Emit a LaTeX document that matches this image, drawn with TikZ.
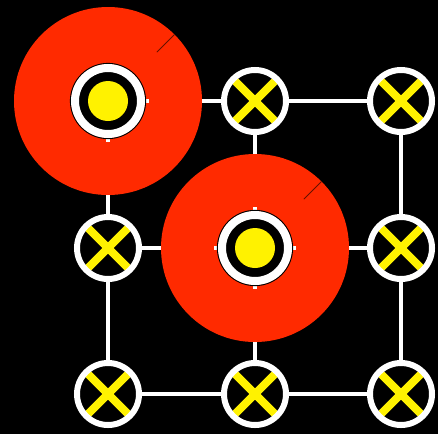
\documentclass[tikz,border=0pt]{standalone}
\usetikzlibrary{calc}
\definecolor{discred}{RGB}{255,42,0}
\definecolor{xyellow}{RGB}{255,242,0}
\tikzset{
  edge/.style={draw=white, line width=4pt},
  ringnode/.style={circle, minimum size=66pt, inner sep=0pt, line width=8pt, draw=white, fill=black},
  xnode/.style={circle, minimum size=62pt, inner sep=0pt, line width=6pt, draw=white, fill=black,
    path picture={
      \draw[xyellow, line width=8pt] ([shift={(-21pt,-21pt)}]path picture bounding box.center) -- ([shift={(21pt,21pt)}]path picture bounding box.center);
      \draw[xyellow, line width=8pt] ([shift={(-21pt,21pt)}]path picture bounding box.center) -- ([shift={(21pt,-21pt)}]path picture bounding box.center);
    }},
  disc/.style={fill=discred},
  seam/.style={draw=black!60!discred, line width=0.8pt}
}
\begin{document}
\begin{tikzpicture}[x=1pt,y=-1pt]
\fill[black] (0,0) rectangle (438,434);
\useasboundingbox (0,0) rectangle (438,434);
% coordinates of grid
\coordinate (p11) at (108,101);
\coordinate (p12) at (255,101);
\coordinate (p13) at (401,101);
\coordinate (p21) at (108,248);
\coordinate (p22) at (255,248);
\coordinate (p23) at (401,248);
\coordinate (p31) at (108,394);
\coordinate (p32) at (255,394);
\coordinate (p33) at (401,394);
% edges
\foreach \a/\b in {p11/p12,p12/p13,p21/p22,p22/p23,p31/p32,p32/p33,p11/p21,p21/p31,p12/p22,p22/p32,p13/p23,p23/p33}
  \draw[edge] (\a) -- (\b);
% red discs
\fill[disc] (p11) circle (94);
\draw[seam] ($(p11)+(48.8,-48.8)$) -- ($(p11)+(66.5,-66.5)$);
\fill[disc] (p22) circle (94);
\draw[seam] ($(p22)+(48.8,-48.8)$) -- ($(p22)+(66.5,-66.5)$);
% edge stubs near centre nodes
\begin{scope}
  \clip (p11) circle (41);
  \draw[edge] (p11) -- (p12);
  \draw[edge] (p11) -- (p21);
\end{scope}
\begin{scope}
  \clip (p22) circle (41);
  \draw[edge] (p22) -- (p12);
  \draw[edge] (p22) -- (p21);
  \draw[edge] (p22) -- (p23);
  \draw[edge] (p22) -- (p32);
\end{scope}
% nodes
\draw[black, line width=1.2pt] (p11) circle (37.5);
\draw[black, line width=1.2pt] (p22) circle (37.5);
\node[ringnode] (n11) at (p11) {};
\node[ringnode] (n22) at (p22) {};
\fill[yellow] (n11.center) circle (20);
\fill[yellow] (n22.center) circle (20);
\node[xnode] (n12) at (p12) {};
\node[xnode] (n13) at (p13) {};
\node[xnode] (n21) at (p21) {};
\node[xnode] (n23) at (p23) {};
\node[xnode] (n31) at (p31) {};
\node[xnode] (n32) at (p32) {};
\node[xnode] (n33) at (p33) {};
\end{tikzpicture}
\end{document}
